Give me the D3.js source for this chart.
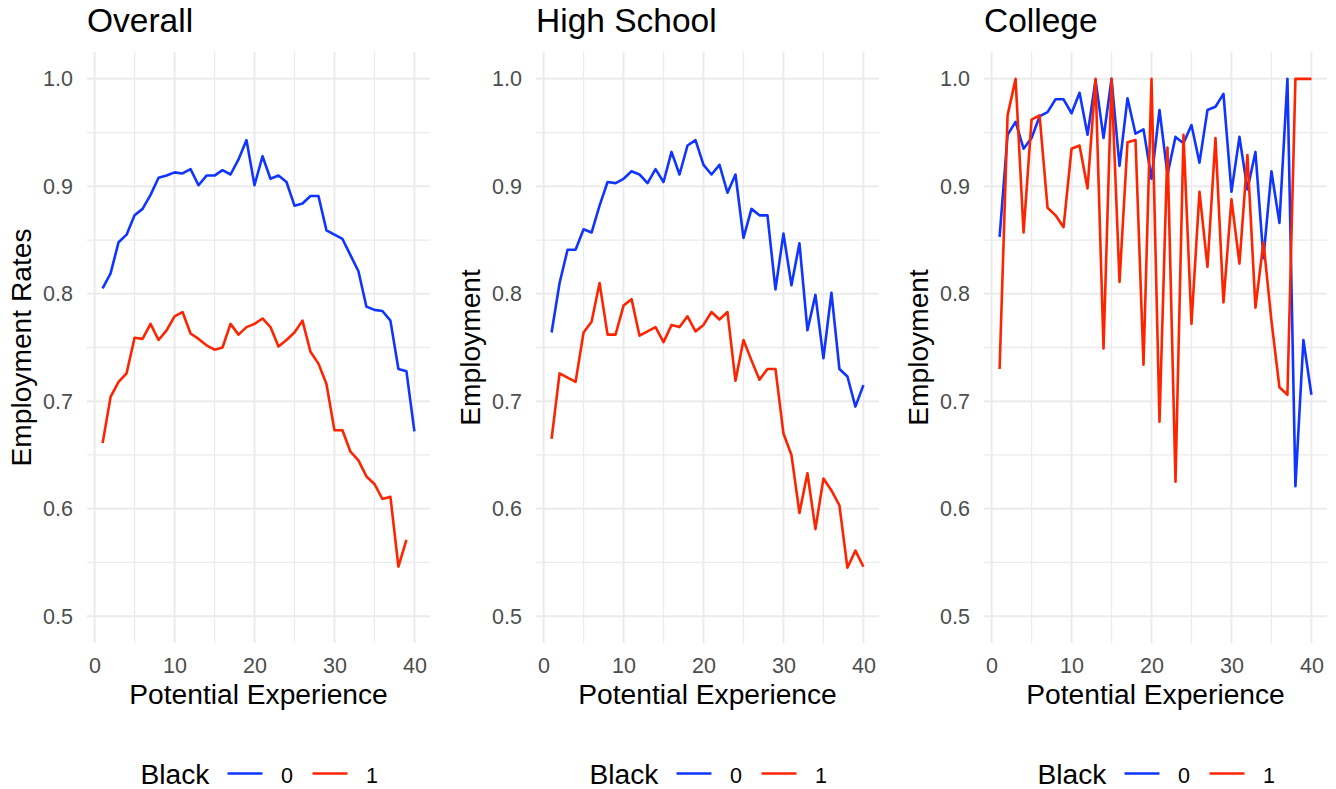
<!DOCTYPE html>
<html>
<head>
<meta charset="utf-8">
<script src="https://cdn.jsdelivr.net/npm/d3@7"></script>
<style>
  html, body { margin: 0; padding: 0; background: #fff; }
  svg { display: block; font-family: "Liberation Sans", Arial, Helvetica, sans-serif; }
</style>
</head>
<body>
<svg id="chart" width="1336" height="789"></svg>
<script>
// Potential experience (years)
const experience = [1,2,3,4,5,6,7,8,9,10,11,12,13,14,15,16,17,18,19,20,
                    21,22,23,24,25,26,27,28,29,30,31,32,33,34,35,36,37,38,39,40];

// Employment rates, Black = 0
const overallWhite = [0.805,0.819,0.848,0.855,0.873,0.879,0.892,0.908,0.910,0.913,
                      0.912,0.916,0.901,0.910,0.910,0.915,0.911,0.925,0.943,0.901,
                      0.928,0.907,0.910,0.904,0.882,0.884,0.891,0.891,0.859,0.855,
                      0.851,0.836,0.821,0.788,0.785,0.784,0.775,0.730,0.728,0.672];
// Employment rates, Black = 1 (no observation at 40 years)
const overallBlack = [0.661,0.704,0.718,0.726,0.759,0.758,0.772,0.757,0.766,0.779,
                      0.783,0.763,0.758,0.752,0.748,0.750,0.772,0.762,0.769,0.772,
                      0.777,0.769,0.751,0.757,0.764,0.775,0.746,0.735,0.716,0.673,
                      0.673,0.653,0.645,0.630,0.623,0.609,0.611,0.546,0.571,null];

const hsWhite = [0.764,0.810,0.841,0.841,0.860,0.857,0.882,0.904,0.903,0.907,
                 0.914,0.911,0.903,0.916,0.904,0.932,0.911,0.938,0.943,0.920,
                 0.911,0.920,0.894,0.911,0.852,0.879,0.873,0.873,0.804,0.856,
                 0.808,0.847,0.766,0.799,0.740,0.801,0.730,0.723,0.695,0.715];
const hsBlack = [0.665,0.726,0.722,0.718,0.764,0.774,0.810,0.762,0.762,0.789,
                 0.795,0.761,0.765,0.769,0.755,0.771,0.769,0.779,0.765,0.771,
                 0.783,0.776,0.783,0.719,0.757,0.738,0.720,0.730,0.730,0.670,
                 0.650,0.596,0.633,0.581,0.628,0.617,0.603,0.545,0.561,0.546];

const colWhite = [0.853,0.948,0.960,0.935,0.945,0.965,0.969,0.981,0.981,0.968,
                  0.987,0.948,0.999,0.945,1.000,0.919,0.982,0.949,0.953,0.907,
                  0.971,0.911,0.946,0.940,0.957,0.922,0.971,0.974,0.986,0.895,
                  0.946,0.897,0.932,0.833,0.914,0.866,1.000,0.621,0.757,0.706];
const colBlack = [0.730,0.966,1.000,0.857,0.962,0.966,0.880,0.873,0.862,0.935,
                  0.938,0.898,1.000,0.749,1.000,0.811,0.941,0.943,0.734,1.000,
                  0.681,0.936,0.625,0.948,0.772,0.895,0.825,0.945,0.792,0.888,
                  0.828,0.929,0.787,0.848,0.775,0.713,0.706,1.000,1.000,1.000];

const panelTitles = ["Overall", "High School", "College"];
const yTitles = ["Employment Rates", "Employment", "Employment"];
const xTitle = "Potential Experience";
const legendTitle = "Black";
const legendLabels = ["0", "1"];
const xTicks = [0, 10, 20, 30, 40];
const xMinor = [5, 15, 25, 35];
const yTicks = [0.5, 0.6, 0.7, 0.8, 0.9, 1.0];
const yMinor = [0.55, 0.65, 0.75, 0.85, 0.95];

const seriesByPanel = [
  [overallWhite, overallBlack],
  [hsWhite, hsBlack],
  [colWhite, colBlack]
];
const colors = ["#0f35ff", "#ff2400"];

const svg = d3.select("#chart");
const panelLefts = [87, 536, 984];
const panelW = 343;
const plotTop = 52, plotBottom = 643;
const gridCol = "#ebebeb";
const tickCol = "#4d4d4d";

panelLefts.forEach((left, p) => {
  const right = left + panelW;
  const x = d3.scaleLinear().domain([-0.95, 41.95]).range([left, right]);
  const y = d3.scaleLinear().domain([0.475, 1.025]).range([plotBottom, plotTop]);
  const g = svg.append("g");

  // minor grid
  g.selectAll(null).data(yMinor).enter().append("line")
    .attr("x1", left).attr("x2", right)
    .attr("y1", d => y(d)).attr("y2", d => y(d))
    .attr("stroke", gridCol).attr("stroke-width", 1.3);
  g.selectAll(null).data(xMinor).enter().append("line")
    .attr("y1", plotTop).attr("y2", plotBottom)
    .attr("x1", d => x(d)).attr("x2", d => x(d))
    .attr("stroke", gridCol).attr("stroke-width", 1.3);
  // major grid
  g.selectAll(null).data(yTicks).enter().append("line")
    .attr("x1", left).attr("x2", right)
    .attr("y1", d => y(d)).attr("y2", d => y(d))
    .attr("stroke", gridCol).attr("stroke-width", 2);
  g.selectAll(null).data(xTicks).enter().append("line")
    .attr("y1", plotTop).attr("y2", plotBottom)
    .attr("x1", d => x(d)).attr("x2", d => x(d))
    .attr("stroke", gridCol).attr("stroke-width", 2);

  // axes
  const xAxis = g.append("g").attr("transform", `translate(0,${plotBottom})`)
    .call(d3.axisBottom(x).tickValues(xTicks).tickSize(0).tickPadding(15).tickFormat(d3.format("d")));
  const yAxis = g.append("g").attr("transform", `translate(${left},0)`)
    .call(d3.axisLeft(y).tickValues(yTicks).tickSize(0).tickPadding(14).tickFormat(d3.format(".1f")));
  [xAxis, yAxis].forEach(a => {
    a.select(".domain").remove();
    a.selectAll("text").attr("fill", tickCol).style("font-size", "21.5px")
      .style("font-family", "'Liberation Sans', Arial, sans-serif");
  });

  // lines
  seriesByPanel[p].forEach((vals, i) => {
    const pts = experience.map((e, k) => ({ e, v: vals[k] }));
    const line = d3.line().defined(d => d.v !== null)
      .x(d => x(d.e)).y(d => y(d.v));
    g.append("path").datum(pts)
      .attr("d", line)
      .attr("fill", "none")
      .attr("stroke", colors[i])
      .attr("stroke-width", 2.6)
      .attr("stroke-linejoin", "round");
  });

  // titles
  g.append("text").attr("x", left).attr("y", 32)
    .attr("fill", "#000").style("font-size", "33.5px").text(panelTitles[p]);
  g.append("text").attr("x", (left + right) / 2).attr("y", 704)
    .attr("text-anchor", "middle").attr("fill", "#000")
    .style("font-size", "28.2px").text(xTitle);
  g.append("text")
    .attr("transform", `translate(${left - 56},${(plotTop + plotBottom) / 2}) rotate(-90)`)
    .attr("text-anchor", "middle").attr("fill", "#000")
    .style("font-size", "28.2px").text(yTitles[p]);

  // legend
  const L = (left + right) / 2 - 118;
  const leg = g.append("g");
  leg.append("text").attr("x", L).attr("y", 784).attr("fill", "#000")
    .style("font-size", "28.2px").text(legendTitle);
  const offs = [87, 172];
  legendLabels.forEach((lab, i) => {
    leg.append("line")
      .attr("x1", L + offs[i]).attr("x2", L + offs[i] + 35)
      .attr("y1", 773.5).attr("y2", 773.5)
      .attr("stroke", colors[i]).attr("stroke-width", 2.6);
    leg.append("text").attr("x", L + offs[i] + 53.5).attr("y", 783)
      .attr("fill", "#000").style("font-size", "21.5px").text(lab);
  });
});
</script>
</body>
</html>
